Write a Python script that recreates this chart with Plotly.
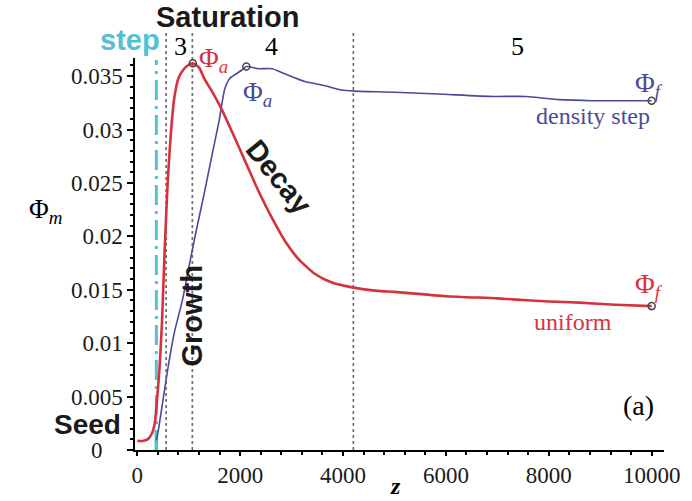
import plotly.graph_objects as go
import numpy as np

# ---- data ----
z_uniform = [0, 100, 200, 280, 340, 380, 430, 480, 530, 590, 650, 720, 800, 880, 980, 1080,
             1200, 1300, 1460, 1650, 1850, 2100, 2360, 2620, 2880, 3130, 3450, 3770, 4200,
             4670, 5000, 6000, 7000, 7300, 8000, 8600, 9300, 10000]
phi_uniform = [0.00085, 0.00085, 0.0010, 0.0015, 0.0025, 0.0045, 0.0075, 0.0120, 0.0185, 0.0250,
               0.0295, 0.0330, 0.0348, 0.0355, 0.0360, 0.0362, 0.0358, 0.0348, 0.0335, 0.0318,
               0.0297, 0.0270, 0.0242, 0.0217, 0.0195, 0.0179, 0.0165, 0.0157, 0.0152, 0.0149,
               0.0148, 0.0144, 0.0142, 0.0141, 0.0139, 0.0138, 0.0136, 0.01347]

z_step = [370, 400, 500, 600, 720, 880, 1010, 1140, 1300, 1460, 1590, 1700, 1800, 1920, 2040,
          2120, 2360, 2620, 2880, 3260, 3650, 3970, 4220, 5000, 5960, 6920, 7560, 8200, 8850,
          9490, 10000]
phi_step = [0.0009, 0.0016, 0.0047, 0.0078, 0.0110, 0.0141, 0.0173, 0.0204, 0.0240, 0.0278,
            0.0308, 0.0338, 0.0348, 0.0352, 0.0356, 0.0359, 0.0357, 0.0357, 0.0352, 0.0345,
            0.0341, 0.0337, 0.0336, 0.0335, 0.0333, 0.0331, 0.0331, 0.0328, 0.0327, 0.0327,
            0.0327]

x_ticks = [0, 2000, 4000, 6000, 8000, 10000]
x_ticklabels = ["0", "2000", "4000", "6000", "8000", "10000"]
y_ticks = [0, 0.005, 0.01, 0.015, 0.02, 0.025, 0.03, 0.035]
y_ticklabels = ["0", "0.005", "0.01", "0.015", "0.02", "0.025", "0.03", "0.035"]

phase_bounds = [560, 1070, 4200]
step_z = 370

RED = "#d6323c"
BLUE = "#4a4a9a"
CYAN = "#52c2d2"

W, H = 692, 501
L, R, T, B = 135, 24, 58, 51
PW, PH = W - L - R, H - T - B


def px(x):
    return (x - L) / PW


def py(y):
    return (H - B - y) / PH


fig = go.Figure()

# phase boundaries (dotted)
for zb in phase_bounds:
    fig.add_shape(type="line", xref="x", yref="paper", x0=zb, x1=zb, y0=0, y1=py(32),
                  line=dict(color="#707070", width=1.7, dash="dot"), layer="below")

# density step line
fig.add_shape(type="line", xref="x", yref="paper", x0=step_z, x1=step_z, y0=0, y1=py(60),
              line=dict(color=CYAN, width=3, dash="20px,6px,3px,6px"), layer="below")
fig.add_shape(type="line", xref="x", yref="y", x0=step_z, x1=step_z, y0=0, y1=0.0018,
              line=dict(color=CYAN, width=3.5), layer="below")

fig.add_trace(go.Scatter(x=z_step, y=phi_step, mode="lines",
                         line=dict(color=BLUE, width=1.6, shape="spline", smoothing=0.6),
                         showlegend=False))
fig.add_trace(go.Scatter(x=z_uniform, y=phi_uniform, mode="lines",
                         line=dict(color=RED, width=2.6, shape="spline", smoothing=0.6),
                         showlegend=False))

# markers at peaks and final values
iu = int(np.argmax(phi_uniform))
isd = int(np.argmax(phi_step))
mx = [z_uniform[iu], z_uniform[-1], z_step[isd], z_step[-1]]
my = [phi_uniform[iu], phi_uniform[-1], phi_step[isd], phi_step[-1]]
fig.add_trace(go.Scatter(x=mx, y=my, mode="markers",
                         marker=dict(symbol="circle-open", size=7, color="#444444",
                                     line=dict(width=1.5)),
                         showlegend=False))

SANS = "Liberation Sans, Arial, sans-serif"
SERIF = "Liberation Serif, Times New Roman, serif"


def ann(text, x, y, size, color="black", family=SERIF, angle=0, xanchor="center"):
    fig.add_annotation(text=text, x=px(x), y=py(y), xref="paper", yref="paper",
                       showarrow=False, xanchor=xanchor, yanchor="middle",
                       textangle=angle, font=dict(size=size, color=color, family=family))


ann("<b>Saturation</b>", 228, 17, 29, "#1a1a1a", SANS)
ann("<b>step</b>", 130, 40, 29, CYAN, SANS)
ann("<b>Seed</b>", 87, 424, 28, "#1a1a1a", SANS)
ann("<b>Growth</b>", 192, 316, 29, "#1a1a1a", SANS, angle=-90)
ann("<b>Decay</b>", 280, 177, 29, "#1a1a1a", SANS, angle=51)
ann("3", 181, 46, 26)
ann("4", 273, 46, 26)
ann("5", 520, 46, 26)
ann("Φ<sub><i>a</i></sub>", 197, 60, 27, RED, xanchor="left")
ann("Φ<sub><i>a</i></sub>", 242, 94, 27, BLUE, xanchor="left")
ann("Φ<sub><i>f</i></sub>", 637, 85, 27, BLUE, xanchor="left")
ann("Φ<sub><i>f</i></sub>", 637, 286, 27, RED, xanchor="left")
ann("density step", 596, 116, 24, BLUE)
ann("uniform", 576, 322, 24, RED)
ann("(a)", 642, 405, 28)
ann("Φ<sub><i>m</i></sub>", 26, 211, 27, xanchor="left")
ann("<b><i>z</i></b>", 397, 486, 24)
# y tick label "0" sits left of the others in the reference
ann(y_ticklabels[0], 97, 450, 23, "#1a1a1a")

y_ticktext = [""] + y_ticklabels[1:]

fig.update_xaxes(range=[-45, 10240], tickvals=x_ticks, ticktext=x_ticklabels,
                 showgrid=False, zeroline=False, showline=True, linecolor="black", linewidth=1.5,
                 ticks="outside", ticklen=4, tickwidth=1.5, tickcolor="black",
                 minor=dict(dtick=400, tick0=0, ticks="outside", ticklen=3, tickwidth=1.5,
                            tickcolor="black", showgrid=False),
                 tickfont=dict(family=SERIF, size=23, color="#1a1a1a"))
fig.update_yaxes(range=[0, 0.0367], tickvals=y_ticks, ticktext=y_ticktext,
                 showgrid=False, zeroline=False, showline=True, linecolor="black", linewidth=1.5,
                 ticks="outside", ticklen=6, tickwidth=1.5, tickcolor="black",
                 minor=dict(dtick=0.001, tick0=0, ticks="outside", ticklen=3, tickwidth=1.5,
                            tickcolor="black", showgrid=False),
                 tickfont=dict(family=SERIF, size=23, color="#1a1a1a"))

fig.update_layout(width=W, height=H, margin=dict(l=L, r=R, t=T, b=B),
                  paper_bgcolor="white", plot_bgcolor="white", showlegend=False)

fig.write_html("out.html")
